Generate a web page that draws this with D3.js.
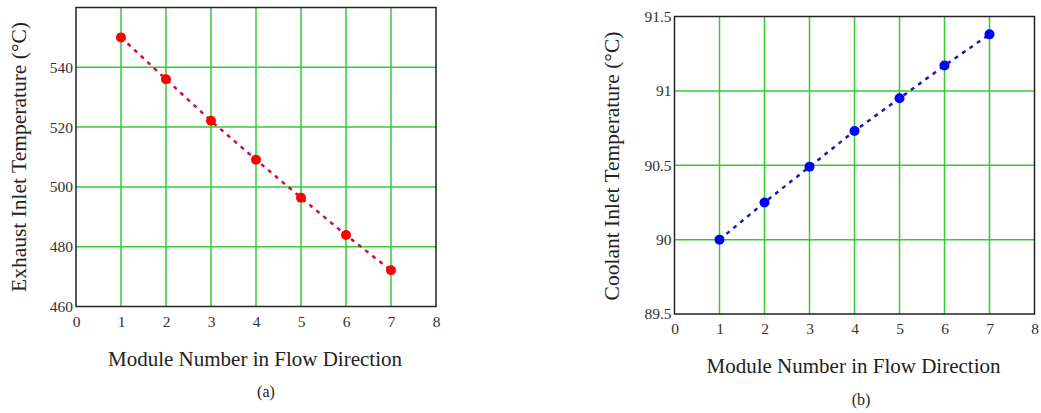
<!DOCTYPE html>
<html><head><meta charset="utf-8">
<script src="https://cdn.jsdelivr.net/npm/d3@7"></script>
<style>
html,body{margin:0;padding:0;background:#fff;}
svg{display:block;}
text{font-family:"Liberation Serif","Times New Roman",serif;}
</style></head>
<body>
<svg id="chart" width="1041" height="413"></svg>
<script>
// ---- data ----
const modules = [1, 2, 3, 4, 5, 6, 7];
const exhaustTemp = [550, 536, 522.1, 509.1, 496.4, 483.9, 472.1];
const coolantTemp = [90.0, 90.25, 90.49, 90.73, 90.95, 91.17, 91.38];
const xTicks = [0, 1, 2, 3, 4, 5, 6, 7, 8];
const exhaustTicks = [460, 480, 500, 520, 540];
const exhaustGrid = [480, 500, 520, 540];
const coolantTicks = [89.5, 90, 90.5, 91, 91.5];
const coolantGrid = [90, 90.5, 91];
const xLabel = "Module Number in Flow Direction";
const exhaustLabel = "Exhaust Inlet Temperature (°C)";
const coolantLabel = "Coolant Inlet Temperature (°C)";

const svg = d3.select("#chart");

function panel(cfg) {
  const g = svg.append("g");
  const x = d3.scaleLinear().domain([0, 8]).range([cfg.left, cfg.right]);
  const y = d3.scaleLinear().domain(cfg.yDomain).range([cfg.bottom, cfg.top]);

  // grid
  g.selectAll(".vg").data(modules).enter().append("line")
    .attr("x1", d => x(d)).attr("x2", d => x(d))
    .attr("y1", cfg.top).attr("y2", cfg.bottom)
    .attr("stroke", "#33cc33").attr("stroke-width", 1.5);
  g.selectAll(".hg").data(cfg.grid).enter().append("line")
    .attr("y1", d => y(d)).attr("y2", d => y(d))
    .attr("x1", cfg.left).attr("x2", cfg.right)
    .attr("stroke", "#33cc33").attr("stroke-width", 1.5);

  // frame
  g.append("rect").attr("x", cfg.left).attr("y", cfg.top)
    .attr("width", cfg.right - cfg.left).attr("height", cfg.bottom - cfg.top)
    .attr("fill", "none").attr("stroke", "#222").attr("stroke-width", 1.5);

  // axes (ticks as text only)
  const xAxis = d3.axisBottom(x).tickValues(xTicks).tickSize(0).tickPadding(9)
    .tickFormat(d3.format("d"));
  const xa = g.append("g").attr("transform", `translate(0,${cfg.bottom})`).call(xAxis);
  xa.select(".domain").remove();
  xa.selectAll("text").attr("font-size", 15.5).attr("fill", "#333")
    .attr("font-family", "Liberation Serif");

  const yAxis = d3.axisLeft(y).tickValues(cfg.ticks).tickSize(0).tickPadding(3)
    .tickFormat(d => String(d));
  const ya = g.append("g").attr("transform", `translate(${cfg.left},0)`).call(yAxis);
  ya.select(".domain").remove();
  ya.selectAll("text").attr("font-size", 15.5).attr("fill", "#333")
    .attr("font-family", "Liberation Serif");

  // line
  const line = d3.line().x((d, i) => x(modules[i])).y(d => y(d));
  g.append("path").datum(cfg.values).attr("d", line)
    .attr("fill", "none").attr("stroke", cfg.lineColor)
    .attr("stroke-width", 2.5).attr("stroke-dasharray", "4,5");

  g.selectAll(".pt").data(cfg.values).enter().append("circle")
    .attr("cx", (d, i) => x(modules[i])).attr("cy", d => y(d))
    .attr("r", 5).attr("fill", cfg.dotColor);

  // labels
  g.append("text").attr("x", cfg.xLabelX).attr("y", cfg.xLabelY)
    .attr("text-anchor", "middle").attr("font-size", 21).attr("fill", "#222")
    .text(xLabel);
  g.append("text").attr("transform", `translate(${cfg.yLabelX},${cfg.yLabelY}) rotate(-90)`)
    .attr("text-anchor", "middle").attr("font-size", 21.5).attr("fill", "#222")
    .text(cfg.yLabel);
  g.append("text").attr("x", cfg.capX).attr("y", cfg.capY)
    .attr("text-anchor", "middle").attr("font-size", 16).attr("fill", "#222")
    .text(cfg.caption);
}

panel({
  left: 76, right: 436, top: 7.5, bottom: 306.5,
  yDomain: [460, 560], ticks: exhaustTicks, grid: exhaustGrid,
  values: exhaustTemp, lineColor: "#cc1133", dotColor: "#ff0000",
  yLabel: exhaustLabel, yLabelX: 26, yLabelY: 157,
  xLabelX: 255, xLabelY: 366, capX: 266, capY: 397, caption: "(a)"
});
panel({
  left: 674.5, right: 1034.5, top: 16.5, bottom: 314,
  yDomain: [89.5, 91.5], ticks: coolantTicks, grid: coolantGrid,
  values: coolantTemp, lineColor: "#1a1aaa", dotColor: "#0000ff",
  yLabel: coolantLabel, yLabelX: 619, yLabelY: 166,
  xLabelX: 853.5, xLabelY: 373, capX: 861, capY: 405, caption: "(b)"
});
</script>
</body></html>
